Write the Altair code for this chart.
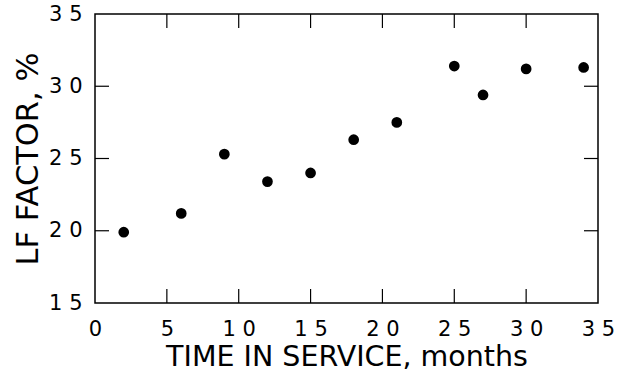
import altair as alt
import pandas as pd

# ---- data ----
months = [2, 6, 9, 12, 15, 18, 21, 25, 27, 30, 34]
lf_factor = [19.9, 21.2, 25.3, 23.4, 24.0, 26.3, 27.5, 31.4, 29.4, 31.2, 31.3]

x_label_values = [0, 5, 10, 15, 20, 25, 30, 35]
y_label_values = [15, 20, 25, 30, 35]
x_tick_values = [5, 10, 15, 20, 25, 30]
y_tick_values = [20, 25, 30]

W, H = 503, 289
TICK = 14
FONT = "DejaVu Sans"

df = pd.DataFrame({"months": months, "lf": lf_factor})
xt = pd.DataFrame({"months": x_tick_values})
yt = pd.DataFrame({"lf": y_tick_values})

xscale = alt.Scale(domain=[0, 35], nice=False, zero=False)
yscale = alt.Scale(domain=[15, 35], nice=False, zero=False)

spaced = "join(split(datum.label, ''), ' ')"

x_axis = alt.Axis(
    values=x_label_values,
    title="TIME IN SERVICE, months",
    ticks=False,
    tickSize=0,
    domain=False,
    grid=False,
    labelFlush=False,
    labelExpr=spaced,
    labelFont=FONT,
    labelFontSize=21,
    labelColor="black",
    labelBaseline="alphabetic",
    labelPadding=32,
    titleFont=FONT,
    titleFontSize=28.5,
    titleFontWeight="normal",
    titleColor="black",
    titleBaseline="alphabetic",
    titleY=62,
)

y_axis = alt.Axis(
    values=y_label_values,
    title="LF FACTOR, %",
    ticks=False,
    tickSize=0,
    domain=False,
    grid=False,
    labelFlush=False,
    labelExpr=spaced,
    labelFont=FONT,
    labelFontSize=21,
    labelColor="black",
    labelAlign="right",
    labelBaseline="middle",
    labelPadding=13,
    titleFont=FONT,
    titleFontSize=30.5,
    titleFontWeight="normal",
    titleColor="black",
    titleAngle=270,
    titleAlign="center",
    titleBaseline="alphabetic",
    titleX=-58,
    titleY=H / 2,
)

points = alt.Chart(df).mark_circle(size=115, color="black", opacity=1).encode(
    x=alt.X("months:Q", scale=xscale, axis=x_axis),
    y=alt.Y("lf:Q", scale=yscale, axis=y_axis),
)

rule_style = dict(color="black", strokeWidth=1.2)

bottom_ticks = alt.Chart(xt).mark_rule(**rule_style).encode(
    x=alt.X("months:Q", scale=xscale, axis=x_axis),
    y=alt.value(H),
    y2=alt.value(H - TICK),
)
top_ticks = alt.Chart(xt).mark_rule(**rule_style).encode(
    x=alt.X("months:Q", scale=xscale, axis=x_axis),
    y=alt.value(0),
    y2=alt.value(TICK),
)
left_ticks = alt.Chart(yt).mark_rule(**rule_style).encode(
    y=alt.Y("lf:Q", scale=yscale, axis=y_axis),
    x=alt.value(0),
    x2=alt.value(TICK),
)
right_ticks = alt.Chart(yt).mark_rule(**rule_style).encode(
    y=alt.Y("lf:Q", scale=yscale, axis=y_axis),
    x=alt.value(W - TICK),
    x2=alt.value(W),
)

chart = (
    alt.layer(points, bottom_ticks, top_ticks, left_ticks, right_ticks)
    .properties(
        width=W,
        height=H,
        autosize=alt.AutoSizeParams(type="none"),
        padding={"left": 95, "top": 14, "right": 22, "bottom": 69},
        background="white",
    )
    .configure_view(stroke="black", strokeWidth=1.5)
)

chart.save("out.html", embed_options={"renderer": "svg", "actions": False})
